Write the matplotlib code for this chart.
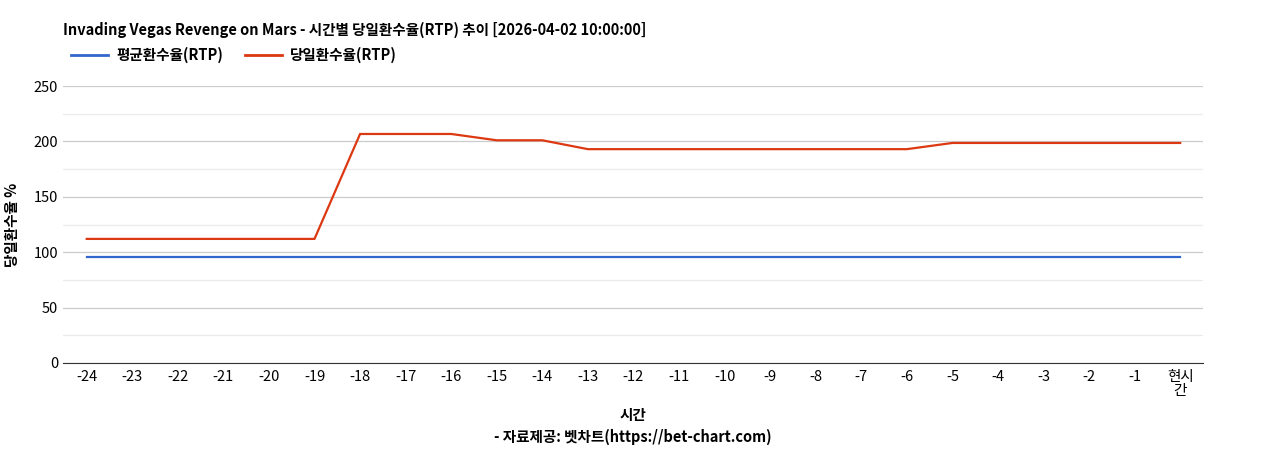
import matplotlib
matplotlib.use("Agg")
import matplotlib.pyplot as plt
from matplotlib.lines import Line2D

plt.rcParams['font.family'] = ['Noto Sans CJK KR', 'DejaVu Sans']

#---------------------------------------------
#data
#---------------------------------------------
hours = ['-24', '-23', '-22', '-21', '-20', '-19', '-18', '-17', '-16', '-15', '-14', '-13',
         '-12', '-11', '-10', '-9', '-8', '-7', '-6', '-5', '-4', '-3', '-2', '-1', '현시\n간']
avg_rtp = [95.7] * 25
day_rtp = [112, 112, 112, 112, 112, 112, 206.7, 206.7, 206.7, 201, 201, 193,
           193, 193, 193, 193, 193, 193, 193, 198.6, 198.6, 198.6, 198.6, 198.6, 198.6]

blue = '#3366cc'
red = '#dc3912'

fig = plt.figure(figsize=(12.68, 4.5), dpi=100)
ax = fig.add_axes([63/1268, 1 - 363/450, (1203-63)/1268, (363-86)/450])
x = list(range(len(hours)))
ax.plot(x, avg_rtp, color=blue, lw=1.6)
ax.plot(x, day_rtp, color=red, lw=1.6)

ax.set_xlim(-0.52, 24.5)
ax.set_ylim(0, 250)
ax.set_yticks([0, 50, 100, 150, 200, 250])
ax.set_yticks([25, 75, 125, 175, 225], minor=True)
ax.grid(axis='y', which='major', color='#cccccc', lw=0.9)
ax.grid(axis='y', which='minor', color='#ebebeb', lw=0.9)
ax.tick_params(axis='y', which='both', length=0, labelsize=10.5)
ax.tick_params(axis='x', length=0, labelsize=10.5, pad=5)
ax.set_xticks(x)
ax.set_xticklabels(hours, linespacing=1.0)
ax.set_axisbelow(True)
for s in ['top', 'right', 'left']:
    ax.spines[s].set_visible(False)
ax.spines['bottom'].set_color('#333333')

ax.set_ylabel('당일환수율 %', fontsize=10.5, fontweight='bold', labelpad=10)
fig.text(633/1268, 1 - 415/450, '시간', ha='center', va='center', fontsize=10.5, fontweight='bold')
fig.text(633/1268, 1 - 437/450, '- 자료제공: 벳차트(https://bet-chart.com)', ha='center', va='center',
         fontsize=10.5, fontweight='bold')
fig.text(63/1268, 1 - 30/450, 'Invading Vegas Revenge on Mars - 시간별 당일환수율(RTP) 추이 [2026-04-02 10:00:00]',
         ha='left', va='center', fontsize=10.5, fontweight='bold')

handles = [Line2D([], [], color=blue, lw=2), Line2D([], [], color=red, lw=2)]
fig.legend(handles, ['평균환수율(RTP)', '당일환수율(RTP)'], loc='center left',
           bbox_to_anchor=(58/1268, 1 - 55/450), ncol=2, frameon=False,
           prop={'size': 10.5, 'weight': 'bold'}, handlelength=2.5, columnspacing=1.5, handletextpad=0.6)

fig.savefig('out.png', dpi=100)
